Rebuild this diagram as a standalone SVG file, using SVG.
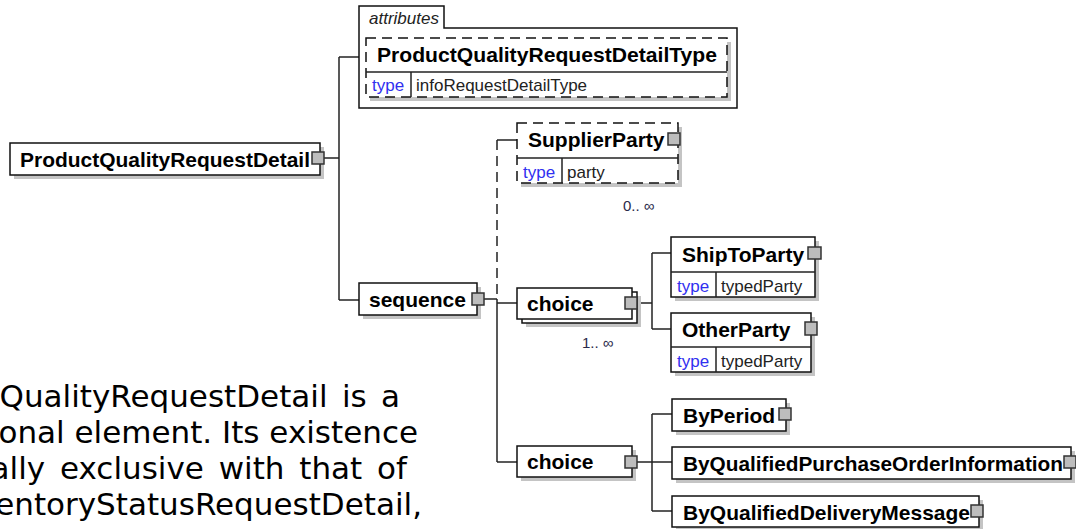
<svg xmlns="http://www.w3.org/2000/svg" width="1076" height="529" viewBox="0 0 1076 529">
<style>
.bg{fill:#fff}
.box{fill:#fff;stroke:#111;stroke-width:1.5}
.dbox{fill:#fff;stroke:#111;stroke-width:1.5;stroke-dasharray:10 6}
.shadow{fill:#c4c4c4}
.sq{fill:#bdbdbd;stroke:#333;stroke-width:1.5}
.ln{stroke:#222;stroke-width:1.5;fill:none}
.dash{stroke-dasharray:10 6}
.name{font-family:"Liberation Sans",Arial,sans-serif;font-weight:bold;font-size:21px;fill:#000}
.sm{font-family:"Liberation Sans",Arial,sans-serif;font-size:17px;fill:#222}
.type{fill:#3030f0}
.occ{font-family:"Liberation Sans",Arial,sans-serif;font-size:15px;fill:#2a2a4a}
.it{font-family:"Liberation Sans",Arial,sans-serif;font-size:17px;font-style:italic;fill:#222}
.para{font-family:"DejaVu Sans",Verdana,sans-serif;font-size:31px;fill:#000}
</style>
<rect class="bg" x="0" y="0" width="1076" height="529"/>

<g id="connectors">
  <line class="ln" x1="324" y1="158" x2="339" y2="158"/>
  <line class="ln" x1="339" y1="57" x2="339" y2="300"/>
  <line class="ln" x1="339" y1="57" x2="359" y2="57"/>
  <line class="ln" x1="339" y1="300" x2="359" y2="300"/>
  <line class="ln" x1="484" y1="299" x2="497" y2="299"/>
  <line class="ln dash" x1="497" y1="140" x2="497" y2="299"/>
  <line class="ln" x1="497" y1="299" x2="497" y2="462"/>
  <line class="ln" x1="497" y1="140" x2="517" y2="140"/>
  <line class="ln" x1="497" y1="303" x2="517" y2="303"/>
  <line class="ln" x1="497" y1="462" x2="517" y2="462"/>
  <line class="ln" x1="637" y1="303" x2="652" y2="303"/>
  <line class="ln" x1="652" y1="253" x2="652" y2="329"/>
  <line class="ln" x1="652" y1="253" x2="671" y2="253"/>
  <line class="ln" x1="652" y1="329" x2="671" y2="329"/>
  <line class="ln" x1="637" y1="462" x2="652" y2="462"/>
  <line class="ln" x1="652" y1="414" x2="652" y2="511"/>
  <line class="ln" x1="652" y1="414" x2="672" y2="414"/>
  <line class="ln" x1="652" y1="462" x2="672" y2="462"/>
  <line class="ln" x1="652" y1="511" x2="672" y2="511"/>
</g>

<g id="node-ProductQualityRequestDetail">
  <rect class="shadow" x="14" y="147" width="310" height="32"/>
  <rect class="box" x="10" y="143" width="310" height="32"/>
  <text class="name" x="20" y="167" textLength="290" lengthAdjust="spacingAndGlyphs">ProductQualityRequestDetail</text>
  <rect class="sq" x="312" y="152" width="12" height="12"/>
</g>

<g id="node-attributes">
  <path class="box" d="M359,108 L359,6 L444,6 L444,28 L737,28 L737,108 Z"/>
  <text class="it" x="369" y="24">attributes</text>
  <rect class="shadow" x="370" y="42" width="361" height="59"/>
  <rect class="dbox" x="366" y="38" width="361" height="59"/>
  <line class="ln" x1="366" y1="72" x2="727" y2="72"/>
  <line class="ln" x1="411" y1="72" x2="411" y2="97"/>
  <text class="name" x="377" y="62" textLength="340" lengthAdjust="spacingAndGlyphs">ProductQualityRequestDetailType</text>
  <text class="sm type" x="372" y="91">type</text>
  <text class="sm" x="416" y="91">infoRequestDetailType</text>
</g>

<g id="node-sequence">
  <rect class="shadow" x="363" y="287" width="118" height="32"/>
  <rect class="box" x="359" y="283" width="118" height="32"/>
  <text class="name" x="369" y="307">sequence</text>
  <rect class="sq" x="472" y="293" width="12" height="12"/>
</g>

<g id="node-SupplierParty">
  <rect class="shadow" x="521" y="127" width="161" height="60"/>
  <rect class="dbox" x="517" y="123" width="161" height="60"/>
  <line class="ln" x1="517" y1="158" x2="678" y2="158"/>
  <line class="ln" x1="562" y1="158" x2="562" y2="183"/>
  <text class="name" x="528" y="147">SupplierParty</text>
  <rect class="sq" x="668" y="133" width="12" height="12"/>
  <text class="sm type" x="523" y="178">type</text>
  <text class="sm" x="567" y="178">party</text>
  <text class="occ" x="623" y="211">0.. ∞</text>
</g>

<g id="node-choice1">
  <rect class="shadow" x="526" y="296" width="115" height="31"/>
  <rect class="box" x="522" y="292" width="115" height="31"/>
  <rect class="box" x="517" y="288" width="115" height="31"/>
  <text class="name" x="527" y="311">choice</text>
  <rect class="sq" x="625" y="297" width="12" height="12"/>
  <text class="occ" x="582" y="348">1.. ∞</text>
</g>

<g id="node-ShipToParty">
  <rect class="shadow" x="675" y="241" width="144" height="60"/>
  <rect class="box" x="671" y="237" width="144" height="60"/>
  <line class="ln" x1="671" y1="272" x2="815" y2="272"/>
  <line class="ln" x1="716" y1="272" x2="716" y2="297"/>
  <text class="name" x="682" y="262">ShipToParty</text>
  <rect class="sq" x="808" y="247" width="13" height="12"/>
  <text class="sm type" x="677" y="292">type</text>
  <text class="sm" x="721" y="292">typedParty</text>
</g>

<g id="node-OtherParty">
  <rect class="shadow" x="675" y="317" width="140" height="59"/>
  <rect class="box" x="671" y="313" width="140" height="59"/>
  <line class="ln" x1="671" y1="347" x2="811" y2="347"/>
  <line class="ln" x1="716" y1="347" x2="716" y2="372"/>
  <text class="name" x="682" y="337">OtherParty</text>
  <rect class="sq" x="805" y="322" width="12" height="13"/>
  <text class="sm type" x="677" y="367">type</text>
  <text class="sm" x="721" y="367">typedParty</text>
</g>

<g id="node-choice2">
  <rect class="shadow" x="521" y="450" width="115" height="31"/>
  <rect class="box" x="517" y="446" width="115" height="31"/>
  <text class="name" x="527" y="469">choice</text>
  <rect class="sq" x="625" y="456" width="12" height="12"/>
</g>

<g id="node-ByPeriod">
  <rect class="shadow" x="676" y="403" width="114" height="32"/>
  <rect class="box" x="672" y="399" width="114" height="32"/>
  <text class="name" x="683" y="423">ByPeriod</text>
  <rect class="sq" x="779" y="408" width="12" height="12"/>
</g>

<g id="node-ByQualifiedPurchaseOrderInformation">
  <rect class="shadow" x="676" y="451" width="399" height="32"/>
  <rect class="box" x="672" y="447" width="399" height="32"/>
  <text class="name" x="683" y="471" textLength="380" lengthAdjust="spacingAndGlyphs">ByQualifiedPurchaseOrderInformation</text>
  <rect class="sq" x="1064" y="456" width="12" height="12"/>
</g>

<g id="node-ByQualifiedDeliveryMessage">
  <rect class="shadow" x="676" y="500" width="307" height="31"/>
  <rect class="box" x="672" y="496" width="307" height="31"/>
  <text class="name" x="683" y="520" textLength="287" lengthAdjust="spacingAndGlyphs">ByQualifiedDeliveryMessage</text>
  <rect class="sq" x="971" y="505" width="12" height="12"/>
</g>

<g id="paragraph">
  <text class="para" x="400" y="407" text-anchor="end" word-spacing="4.5">QualityRequestDetail is a</text>
  <text class="para" x="418" y="443" text-anchor="end">onal element. Its existence</text>
  <text class="para" x="407" y="479" text-anchor="end" word-spacing="5">ally exclusive with that of</text>
  <text class="para" x="422" y="515" text-anchor="end">entoryStatusRequestDetail,</text>
</g>
</svg>
